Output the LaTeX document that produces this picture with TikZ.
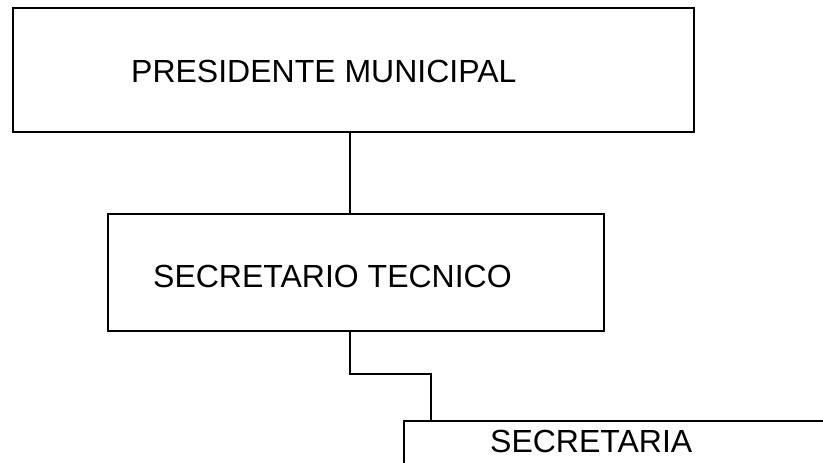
\documentclass[tikz,border=0pt]{standalone}
\usepackage{fontspec}
\setmainfont{Liberation Sans}
\begin{document}
\begin{tikzpicture}[x=1pt,y=1pt,
  box/.style={draw=black,line width=2pt,inner sep=0pt,anchor=north west},
  lbl/.style={inner sep=0pt,anchor=base west,font=\fontsize{32}{38}\selectfont},
  conn/.style={draw=black,line width=1.3pt}]
\useasboundingbox (0,0) rectangle (823,463);
\clip (0,0) rectangle (823,463);
\node[box,minimum width=681pt,minimum height=124pt] (b1) at (12,456) {};
\node[box,minimum width=496pt,minimum height=117pt] (b2) at (107,250) {};
\node[box,minimum width=460pt,minimum height=100pt] (b3) at (403,43) {};
\node[lbl] (t1) at (131,380) {PRESIDENTE MUNICIPAL};
\node[lbl] (t2) at (153,175) {SECRETARIO TECNICO};
\node[lbl] (t3) at (490,10) {SECRETARIA};
\coordinate (c1) at (350,0);
\coordinate (c2) at (431,0);
\coordinate (m1) at (350,89);
\coordinate (m2) at (431,89);
\draw[conn] (b1.south -| c1) -- (b2.north -| c1);
\draw[conn] (b2.south -| c1) -- (m1) -- (m2) -- (b3.north -| c2);
\end{tikzpicture}
\end{document}
